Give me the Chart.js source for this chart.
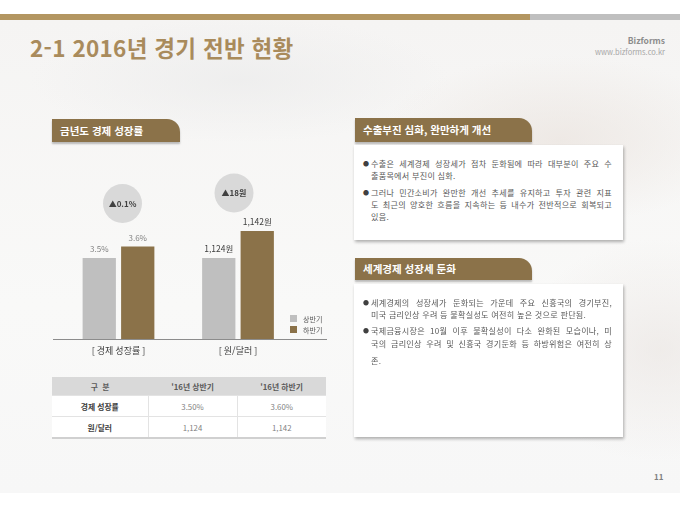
<!DOCTYPE html>
<html lang="ko">
<head>
<meta charset="utf-8">
<title>2-1 2016년 경기 전반 현황</title>
<script src="https://cdn.jsdelivr.net/npm/chart.js@4.4.1/dist/chart.umd.min.js"></script>
<style>
  html, body { margin: 0; padding: 0; }
  body {
    width: 680px; height: 510px; position: relative; overflow: hidden;
    background: #ffffff;
    font-family: 'Noto Sans CJK KR', 'Noto Sans', sans-serif;
  }
  .bg {
    position: absolute; left: 0; top: 20px; width: 680px; height: 473px;
    background:
      radial-gradient(ellipse 260px 120px at 560px 120px, rgba(232,224,218,0.6), rgba(255,255,255,0) 70%),
      radial-gradient(ellipse 200px 160px at 660px 330px, rgba(234,229,226,0.65), rgba(255,255,255,0) 70%),
      radial-gradient(ellipse 300px 90px at 240px 60px, rgba(236,236,236,0.75), rgba(255,255,255,0) 70%),
      linear-gradient(180deg, #f5f4f3 0%, #f9f9f8 60%, #f7f7f7 100%);
  }
  .topbar-a { position: absolute; left: 0; top: 14px; width: 530px; height: 6px; background: #b39661; }
  .topbar-b { position: absolute; left: 530px; top: 14px; width: 150px; height: 6px; background: #bfbfbf; }
  .title {
    position: absolute; left: 30px; top: 32px; font-size: 22.5px; font-weight: bold;
    color: #a98b5c; letter-spacing: 0.3px; line-height: 30px; white-space: nowrap;
  }
  .brand { position: absolute; right: 15px; top: 34px; text-align: right; line-height: 12px; }
  .brand b { display: block; font-size: 8.5px; color: #8c8c8c; }
  .brand span { display: block; font-size: 7.5px; color: #a6a6a6; }
  .tab {
    position: absolute; background: #8b7249; color: #fff; font-weight: bold;
    font-size: 10.5px; padding-left: 8px; box-sizing: border-box;
    border-top-right-radius: 13px; box-shadow: 0 2px 2px rgba(0,0,0,0.25);
    white-space: nowrap;
  }
  .box {
    position: absolute; background: #fff; box-shadow: 1px 2px 3px rgba(0,0,0,0.3);
    box-sizing: border-box; padding: 13px 11px 0 12px; color: #595959; font-size: 8.1px;
    letter-spacing: 0.25px;
  }
  .box .p { position: relative; padding-left: 5px; margin-bottom: 4.2px; }
  .box .p::before { content: '●'; position: absolute; left: -3px; top: 0; font-size: 6px; color: #404040; line-height: 12.3px; }
  .box .l { line-height: 12.3px; white-space: nowrap; text-align: justify; text-align-last: justify; }
  .box .l.last { text-align-last: left; }
  #chartWrap { position: absolute; left: 40px; top: 160px; width: 300px; height: 206px; }
  .legend { position: absolute; left: 290px; top: 315px; font-size: 7px; color: #595959; }
  .legend div { height: 10.5px; line-height: 8px; white-space: nowrap; }
  .legend i { display: inline-block; width: 7px; height: 7px; margin-right: 6px; vertical-align: top; }
  table {
    position: absolute; left: 52px; top: 377px; width: 274px; border-collapse: collapse;
    font-size: 7.8px; background: #fff;
  }
  th { background: #d9d9d9; color: #595959; height: 18px; font-weight: bold; padding: 0; }
  td { height: 20px; text-align: center; color: #7f7f7f; border-top: 1px solid #e3e3e3; padding: 0; }
  td + td { border-left: 1px solid #e3e3e3; }
  td.h { color: #404040; font-weight: bold; }
  tr:last-child td { border-bottom: 2px solid #d0d0d0; }
  .page { position: absolute; left: 654px; top: 471px; font-size: 8px; font-weight: bold; color: #7f7f7f; }
</style>
</head>
<body>
<div class="bg"></div>
<div class="topbar-a"></div>
<div class="topbar-b"></div>
<div class="title">2-1 2016년 경기 전반 현황</div>
<div class="brand"><b>Bizforms</b><span>www.bizforms.co.kr</span></div>

<div class="tab" style="left:52px; top:119px; width:128px; height:23px; line-height:23px;">금년도 경제 성장률</div>
<div id="chartWrap"><canvas id="growthChart"></canvas></div>
<div class="legend" id="legend"></div>
<table id="summary"></table>

<div class="tab" style="left:355px; top:118px; width:177px; height:24px; line-height:24px;">수출부진 심화, 완만하게 개선</div>
<div class="box" style="left:354px; top:145px; width:269px; height:95px;">
  <div class="p">
    <div class="l">수출은 세계경제 성장세가 점차 둔화됨에 따라 대부분이 주요 수</div>
    <div class="l last">출품목에서 부진이 심화.</div>
  </div>
  <div class="p">
    <div class="l">그러나 민간소비가 완만한 개선 추세를 유지하고 투자 관련 지표</div>
    <div class="l">도 최근의 양호한 흐름을 지속하는 등 내수가 전반적으로 회복되고</div>
    <div class="l last">있음.</div>
  </div>
</div>

<div class="tab" style="left:355px; top:258px; width:177px; height:22px; line-height:22px;">세계경제 성장세 둔화</div>
<div class="box" style="left:354px; top:284px; width:269px; height:153px; padding-top:12.5px;">
  <div class="p">
    <div class="l">세계경제의 성장세가 둔화되는 가운데 주요 신흥국의 경기부진,</div>
    <div class="l last">미국 금리인상 우려 등 불확실성도 여전히 높은 것으로 판단됨.</div>
  </div>
  <div class="p">
    <div class="l">국제금융시장은 10월 이후 불확실성이 다소 완화된 모습이나, 미</div>
    <div class="l">국의 금리인상 우려 및 신흥국 경기둔화 등 하방위험은 여전히 상</div>
    <div class="l last" style="margin-top:5px">존.</div>
  </div>
</div>

<div class="page">11</div>

<script>
// data
const categories = ['[ 경제 성장률 ]', '[ 원/달러 ]'];
const seriesNames = ['상반기', '하반기'];
const periodNames = ["'16년 상반기", "'16년 하반기"];
const growthRate = [3.5, 3.6];      // %
const wonPerDollar = [1124, 1142];  // 원
const changeLabels = ['▲0.1%', '▲18원'];
const rowNames = ['경제 성장률', '원/달러'];

const grey = '#bfbfbf';
const brown = '#8b7249';

Chart.defaults.font.family = "'Noto Sans CJK KR', 'Noto Sans', sans-serif";

// legend
const legendEl = document.getElementById('legend');
seriesNames.forEach(function (name, i) {
    const row = document.createElement('div');
    row.innerHTML = '<i style="background:' + (i === 0 ? grey : brown) + '"></i>' + name;
    legendEl.appendChild(row);
});

// table
const tbl = document.getElementById('summary');
let html = '<tr><th style="width:96px">구&nbsp;&nbsp;분</th><th>' + periodNames[0] + '</th><th>' + periodNames[1] + '</th></tr>';
html += '<tr><td class="h">' + rowNames[0] + '</td><td>' + growthRate[0].toFixed(2) + '%</td><td>' + growthRate[1].toFixed(2) + '%</td></tr>';
html += '<tr><td class="h">' + rowNames[1] + '</td><td>' + wonPerDollar[0].toLocaleString('en-US') + '</td><td>' + wonPerDollar[1].toLocaleString('en-US') + '</td></tr>';
tbl.innerHTML = html;

const fmtPct = v => v.toFixed(1) + '%';
const fmtWon = v => v.toLocaleString('en-US') + '원';

// value labels, change bubbles and base line
const overlay = {
    id: 'overlay',
    afterDatasetsDraw(chart) {
        const ctx = chart.ctx;
        const area = chart.chartArea;
        ctx.save();

        const by = Math.round(area.bottom) + 0.5;
        ctx.strokeStyle = '#8c8c8c';
        ctx.lineWidth = 1;
        ctx.beginPath();
        ctx.moveTo(13, by);
        ctx.lineTo(287, by);
        ctx.stroke();

        const tops = [Infinity, Infinity];
        ctx.textAlign = 'center';
        ctx.textBaseline = 'middle';
        chart.data.datasets.forEach(function (ds, i) {
            const meta = chart.getDatasetMeta(i);
            meta.data.forEach(function (bar, j) {
                const v = ds.data[j];
                if (v === null || v === undefined) return;
                tops[j] = Math.min(tops[j], bar.y);
                if (ds.yAxisID === 'yG') {
                    ctx.fillStyle = '#808080';
                    ctx.font = '8px ' + Chart.defaults.font.family;
                } else {
                    ctx.fillStyle = '#404040';
                    ctx.font = '8.5px ' + Chart.defaults.font.family;
                }
                ctx.fillText(ds.fmt(v), bar.x, bar.y - 9);
            });
        });

        const xs = chart.scales.x;
        const shift = [4, -4];
        const rise = [43, 38];
        changeLabels.forEach(function (txt, j) {
            const cx = xs.getPixelForValue(j) + shift[j];
            const cy = tops[j] - rise[j];
            ctx.fillStyle = '#d9d9d9';
            ctx.beginPath();
            ctx.arc(cx, cy, 19.5, 0, Math.PI * 2);
            ctx.fill();
            ctx.fillStyle = '#404040';
            ctx.font = 'bold 8px ' + Chart.defaults.font.family;
            ctx.fillText(txt, cx, cy);
        });
        ctx.restore();
    }
};

new Chart(document.getElementById('growthChart'), {
    type: 'bar',
    data: {
        labels: categories,
        datasets: [
            { label: seriesNames[0], data: [growthRate[0], null], yAxisID: 'yG', backgroundColor: grey, fmt: fmtPct },
            { label: seriesNames[1], data: [growthRate[1], null], yAxisID: 'yG', backgroundColor: brown, fmt: fmtPct },
            { label: seriesNames[0], data: [null, wonPerDollar[0]], yAxisID: 'yF', backgroundColor: grey, fmt: fmtWon },
            { label: seriesNames[1], data: [null, wonPerDollar[1]], yAxisID: 'yF', backgroundColor: brown, fmt: fmtWon }
        ]
    },
    options: {
        responsive: true,
        maintainAspectRatio: false,
        animation: false,
        skipNull: true,
        categoryPercentage: 0.644,
        barPercentage: 0.865,
        layout: { padding: { left: 18.75, right: 42.25, top: 17, bottom: 4 } },
        plugins: { legend: { display: false }, tooltip: { enabled: false } },
        scales: {
            x: {
                grid: { display: false, drawTicks: false },
                border: { display: false },
                ticks: { padding: 6, color: '#404040', font: { size: 9 } }
            },
            yG: { display: false, min: 2.8, max: 4.2 },
            yF: { display: false, min: 1070, max: 1178 }
        }
    },
    plugins: [overlay]
});
</script>
</body>
</html>
